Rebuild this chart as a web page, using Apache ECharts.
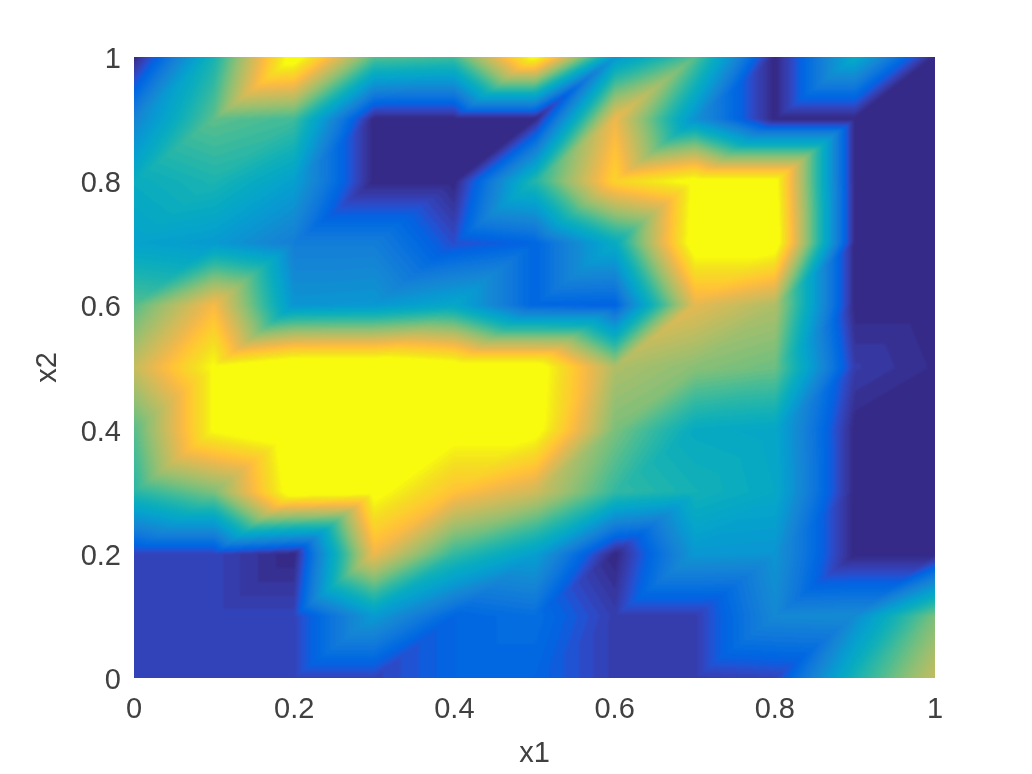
<!DOCTYPE html>
<html>
<head>
<meta charset="utf-8">
<title>x1 x2</title>
<style>
html, body { margin: 0; padding: 0; background: #fff; }
#main { width: 1032px; height: 774px; }
</style>
<script src="https://cdn.jsdelivr.net/npm/echarts@6/dist/echarts.min.js"></script>
</head>
<body>
<div id="main"></div>
<script>
var x1Values = [0, 0.1, 0.2, 0.3, 0.4, 0.5, 0.6, 0.7, 0.8, 0.9, 1];
var x2Values = [1, 0.9, 0.8, 0.7, 0.6, 0.5, 0.4, 0.3, 0.2, 0.1, 0];
var tickLabels = ['0', '0.2', '0.4', '0.6', '0.8', '1'];

// one row per x2 from the top; under 0 and over 1 are clipped
var row100 = [0.00, 0.45, 1.05, 0.55, 0.52, 1.02, 0.32, 0.55, 0.00, 0.40, 0.00];
var row090 = [0.25, 0.56, 0.52, 0.00, 0.00, 0.00, 0.80, 0.30, 0.00, 0.00, 0.00];
var row080 = [0.41, 0.46, 0.35, 0.00, 0.00, 0.47, 0.90, 1.02, 1.02, 0.00, 0.00];
var row070 = [0.36, 0.33, 0.23, 0.23, 0.09, 0.14, 0.40, 1.05, 1.05, 0.00, 0.00];
var row060 = [0.55, 0.82, 0.31, 0.32, 0.38, 0.14, 0.13, 0.78, 0.68, 0.00, 0.00];
var row050 = [0.72, 1.00, 1.10, 1.10, 1.05, 1.05, 0.68, 0.62, 0.58, 0.05, 0.012];
var row040 = [0.55, 1.00, 1.10, 1.10, 1.03, 1.03, 0.60, 0.40, 0.38, 0.00, 0.00];
var row030 = [0.48, 0.60, 1.05, 1.02, 0.85, 0.74, 0.50, 0.44, 0.39, 0.00, 0.00];
var row020 = [0.07, 0.07, 0.00, 0.80, 0.50, 0.35, 0.00, 0.32, 0.31, 0.00, 0.00];
var row010 = [0.07, 0.07, 0.07, 0.33, 0.14, 0.17, 0.055, 0.055, 0.27, 0.28, 0.60];
var row000 = [0.07, 0.07, 0.07, 0.07, 0.14, 0.14, 0.055, 0.055, 0.07, 0.45, 0.72];
var zRows = [row100, row090, row080, row070, row060, row050, row040, row030, row020, row010, row000];

// matlab parula, 64 levels, this is what gives the flat steps
var parula = [
    [53, 42, 135], [54, 48, 147], [54, 55, 160], [53, 61, 173], [50, 67, 186], [44, 74, 199], [32, 83, 212], [15, 92, 221],
    [3, 99, 225], [2, 104, 225], [4, 109, 224], [8, 113, 222], [13, 117, 220], [16, 121, 218], [18, 125, 216], [20, 129, 214],
    [20, 133, 212], [19, 137, 211], [16, 142, 210], [12, 147, 210], [9, 152, 209], [7, 156, 207], [6, 160, 205], [6, 164, 202],
    [6, 167, 198], [7, 169, 194], [10, 172, 190], [15, 174, 185], [21, 177, 180], [29, 179, 175], [37, 181, 169], [46, 183, 164],
    [56, 185, 158], [66, 187, 152], [77, 188, 146], [89, 189, 140], [101, 190, 134], [113, 191, 128], [124, 191, 123], [135, 191, 119],
    [146, 191, 115], [156, 191, 111], [165, 190, 107], [174, 190, 103], [183, 189, 100], [192, 188, 96], [200, 188, 93], [209, 187, 89],
    [217, 186, 86], [225, 185, 82], [233, 185, 78], [241, 185, 74], [248, 187, 68], [253, 190, 61], [255, 195, 55], [254, 200, 50],
    [252, 206, 46], [250, 211, 42], [247, 216, 38], [245, 222, 33], [245, 228, 29], [245, 235, 24], [246, 243, 19], [249, 251, 14]
];

function colorOf(v) {
    return parula[Math.max(0, Math.min(63, Math.floor(v * 64)))];
}

// z at a place given in grid units, each cell splits on the
// bottom-left to top-right diagonal
function zAt(fx, fy) {
    var last = x1Values.length - 1;
    fx = Math.max(0, Math.min(last, fx));
    fy = Math.max(0, Math.min(last, fy));
    var c = Math.min(last - 1, Math.floor(fx));
    var r = Math.min(last - 1, Math.floor(fy));
    var u = fx - c, d = fy - r;
    if (u + d < 1) {
        var a = zRows[r][c];
        return a + (zRows[r][c + 1] - a) * u + (zRows[r + 1][c] - a) * d;
    }
    var b = zRows[r + 1][c + 1];
    return b + (zRows[r + 1][c] - b) * (1 - u) + (zRows[r][c + 1] - b) * (1 - d);
}

// one item per grid cell: column, row and its corners
var cells = [];
for (var r = 0; r < x2Values.length - 1; r++) {
    for (var c = 0; c < x1Values.length - 1; c++) {
        cells.push([c, r, x1Values[c], x2Values[r], x1Values[c + 1], x2Values[r + 1]]);
    }
}

// the reference is a slightly soft bitmap, so each pixel averages its neighbours
var blurOffsets = [-2, -1, 0, 1, 2];
var blurWeights = [1, 4, 6, 4, 1];

function renderCell(params, api) {
    var col = api.value(0), row = api.value(1);
    var tl = api.coord([api.value(2), api.value(3)]);
    var br = api.coord([api.value(4), api.value(5)]);
    var left = Math.round(tl[0]), top = Math.round(tl[1]);
    var w = Math.round(br[0]) - left, h = Math.round(br[1]) - top;
    var cw = br[0] - tl[0], ch = br[1] - tl[1];
    var canvas = document.createElement('canvas');
    canvas.width = w;
    canvas.height = h;
    var ctx = canvas.getContext('2d');
    var img = ctx.createImageData(w, h);
    for (var py = 0; py < h; py++) {
        for (var px = 0; px < w; px++) {
            var sr = 0, sg = 0, sb = 0;
            for (var i = 0; i < 5; i++) {
                for (var j = 0; j < 5; j++) {
                    var fx = col + (px + 0.5 + blurOffsets[i]) / cw;
                    var fy = row + (py + 0.5 + blurOffsets[j]) / ch;
                    var rgb = colorOf(zAt(fx, fy));
                    var wt = blurWeights[i] * blurWeights[j];
                    sr += rgb[0] * wt;
                    sg += rgb[1] * wt;
                    sb += rgb[2] * wt;
                }
            }
            var o = (py * w + px) * 4;
            img.data[o] = sr / 256;
            img.data[o + 1] = sg / 256;
            img.data[o + 2] = sb / 256;
            img.data[o + 3] = 255;
        }
    }
    ctx.putImageData(img, 0, 0);
    return {
        type: 'image',
        style: { image: canvas, x: left, y: top, width: w, height: h }
    };
}

var textColor = '#404040';
var fontName = 'Liberation Sans';
var myChart = echarts.init(document.getElementById('main'), null, { renderer: 'canvas' });
var option = {
    animation: false,
    backgroundColor: '#fff',
    grid: { left: 134, top: 57, width: 801, height: 621 },
    xAxis: {
        type: 'value', min: 0, max: 1, interval: 0.2,
        name: 'x1', nameLocation: 'middle', nameGap: 61,
        nameTextStyle: { color: textColor, fontSize: 29, fontFamily: fontName },
        axisLine: { show: false }, axisTick: { show: false }, splitLine: { show: false },
        axisLabel: {
            color: textColor, fontSize: 29, fontFamily: fontName, margin: 17,
            formatter: function (v) { return tickLabels[Math.round(v * 5)]; }
        }
    },
    yAxis: {
        type: 'value', min: 0, max: 1, interval: 0.2,
        name: 'x2', nameLocation: 'middle', nameGap: 72,
        nameTextStyle: { color: textColor, fontSize: 29, fontFamily: fontName },
        axisLine: { show: false }, axisTick: { show: false }, splitLine: { show: false },
        axisLabel: {
            color: textColor, fontSize: 29, fontFamily: fontName, margin: 13,
            // small line box hung from the tick, drops the text a little below centre
            verticalAlign: 'top', lineHeight: 6,
            formatter: function (v) { return tickLabels[Math.round(v * 5)]; }
        }
    },
    series: [{
        type: 'custom',
        coordinateSystem: 'cartesian2d',
        renderItem: renderCell,
        encode: { x: [2, 4], y: [3, 5] },
        silent: true,
        data: cells
    }]
};
myChart.setOption(option);
</script>
</body>
</html>
